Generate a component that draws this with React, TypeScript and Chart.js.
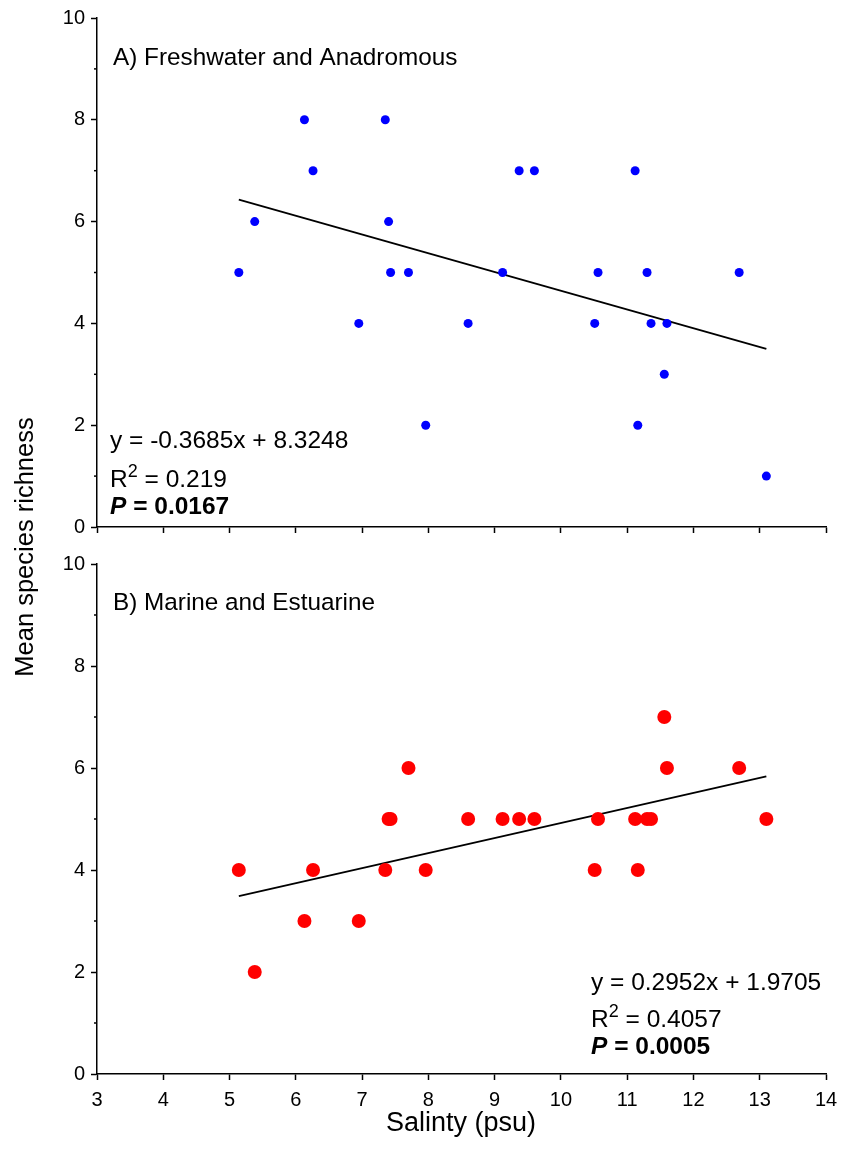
import React, { useEffect, useRef } from "react";
import { Chart, registerables } from "chart.js";

Chart.register(...registerables);

// ---- data ----
const salinity = [5.14, 5.38, 6.13, 6.26, 6.95, 7.35, 7.4, 7.43, 7.7, 7.96, 8.6, 9.12, 9.37, 9.6, 10.51, 10.56, 11.12, 11.16, 11.3, 11.36, 11.56, 11.6, 12.69, 13.1];
const freshwaterRichness = [5, 6, 8, 7, 4, 8, 6, 5, 5, 2, 4, 5, 7, 7, 4, 5, 7, 2, 5, 4, 3, 4, 5, 1];
const marineRichness = [4, 2, 3, 4, 3, 4, 5, 5, 6, 4, 5, 5, 5, 5, 4, 5, 5, 4, 5, 5, 7, 6, 6, 5];
const freshFit = { slope: -0.3685, intercept: 8.3248, r2: "0.219", p: "0.0167" };
const marineFit = { slope: 0.2952, intercept: 1.9705, r2: "0.4057", p: "0.0005" };
const xTickRange = { min: 3, max: 14, step: 1 };
const yTickRange = { min: 0, max: 10, step: 2 };
const yMinorTicks = [1, 3, 5, 7, 9];

const FONT = "'Liberation Sans', Arial, sans-serif";
const W = 841;
const H = 1166;

type Run = { text: string; font: string; dy?: number };
type TextItem = { x: number; y: number; runs: Run[]; rotate?: number; align?: "left" | "center" };

const overlayPlugin = {
  id: "overlay",
  afterDraw(chart: any, _args: any, opts: any) {
    const ctx = chart.ctx as CanvasRenderingContext2D;
    const ys = chart.scales.y;
    ctx.save();
    ctx.strokeStyle = "#000";
    ctx.lineWidth = 1.5;
    for (const v of opts.minorTicks || []) {
      const py = ys.getPixelForValue(v);
      ctx.beginPath();
      ctx.moveTo(ys.right - 3, py);
      ctx.lineTo(ys.right, py);
      ctx.stroke();
    }
    ctx.fillStyle = "#000";
    ctx.textBaseline = "alphabetic";
    ctx.textAlign = "left";
    for (const item of (opts.texts || []) as TextItem[]) {
      ctx.save();
      ctx.translate(item.x, item.y);
      if (item.rotate) ctx.rotate((item.rotate * Math.PI) / 180);
      let total = 0;
      for (const r of item.runs) {
        ctx.font = r.font;
        total += ctx.measureText(r.text).width;
      }
      let cx = item.align === "center" ? -total / 2 : 0;
      for (const r of item.runs) {
        ctx.font = r.font;
        ctx.fillText(r.text, cx, r.dy || 0);
        cx += ctx.measureText(r.text).width;
      }
      ctx.restore();
    }
    ctx.restore();
  },
};

const STAT = 24.5;

function statLines(fit: typeof freshFit, x: number, y0: number, y1: number, y2: number): TextItem[] {
  const sign = fit.intercept >= 0 ? "+" : "-";
  return [
    { x, y: y0, runs: [{ text: `y = ${fit.slope}x ${sign} ${Math.abs(fit.intercept)}`, font: `${STAT}px ${FONT}` }] },
    {
      x,
      y: y1,
      runs: [
        { text: "R", font: `${STAT}px ${FONT}` },
        { text: "2", font: `18px ${FONT}`, dy: -10 },
        { text: ` = ${fit.r2}`, font: `${STAT}px ${FONT}` },
      ],
    },
    {
      x,
      y: y2,
      runs: [
        { text: "P", font: `italic bold ${STAT}px ${FONT}` },
        { text: ` = ${fit.p}`, font: `bold ${STAT}px ${FONT}` },
      ],
    },
  ];
}

function makeConfig(opts: {
  values: number[];
  fit: typeof freshFit;
  color: string;
  radius: number;
  padTop: number;
  padBottom: number;
  xHeight: number;
  showXLabels: boolean;
  texts: TextItem[];
}) {
  const points = salinity.map((x, i) => ({ x, y: opts.values[i] }));
  const xMin = Math.min(...salinity);
  const xMax = Math.max(...salinity);
  const fitLine = [
    { x: xMin, y: opts.fit.slope * xMin + opts.fit.intercept },
    { x: xMax, y: opts.fit.slope * xMax + opts.fit.intercept },
  ];
  return {
    type: "scatter" as const,
    data: {
      datasets: [
        {
          data: fitLine,
          showLine: true,
          borderColor: "#000",
          borderWidth: 1.8,
          pointRadius: 0,
          fill: false,
          order: 2,
        },
        {
          data: points,
          backgroundColor: opts.color,
          borderWidth: 0,
          pointRadius: opts.radius,
          pointHoverRadius: opts.radius,
          order: 1,
        },
      ],
    },
    options: {
      animation: false as const,
      responsive: false,
      events: [],
      layout: { padding: { top: opts.padTop, bottom: opts.padBottom, left: 0, right: 15 } },
      plugins: {
        legend: { display: false },
        tooltip: { enabled: false },
        overlay: { minorTicks: yMinorTicks, texts: opts.texts },
      },
      scales: {
        x: {
          type: "linear" as const,
          min: xTickRange.min,
          max: xTickRange.max,
          afterFit: (s: any) => {
            s.height = opts.xHeight;
            s.paddingLeft = 0;
            s.paddingRight = 0;
          },
          ticks: {
            display: opts.showXLabels,
            stepSize: xTickRange.step,
            color: "#000",
            font: { family: FONT, size: 20 },
            padding: 8,
            maxRotation: 0,
          },
          grid: { drawOnChartArea: false, drawTicks: true, tickLength: 6, tickColor: "#000", tickWidth: 1.5 },
          border: { display: true, color: "#000", width: 1.5 },
        },
        y: {
          type: "linear" as const,
          min: yTickRange.min,
          max: yTickRange.max,
          afterFit: (s: any) => {
            s.width = 97;
          },
          ticks: {
            stepSize: yTickRange.step,
            color: "#000",
            font: { family: FONT, size: 20 },
            padding: 6,
          },
          grid: { drawOnChartArea: false, drawTicks: true, tickLength: 6, tickColor: "#000", tickWidth: 1.5 },
          border: { display: true, color: "#000", width: 1.5 },
        },
      },
    },
    plugins: [overlayPlugin],
  };
}

export default function App() {
  const refA = useRef<HTMLCanvasElement>(null);
  const refB = useRef<HTMLCanvasElement>(null);

  useEffect(() => {
    const textsA: TextItem[] = [
      { x: 113, y: 65, runs: [{ text: "A) Freshwater and Anadromous", font: `24.3px ${FONT}` }] },
      ...statLines(freshFit, 110, 448, 487, 514),
    ];
    const textsB: TextItem[] = [
      { x: 113, y: 610, runs: [{ text: "B) Marine and Estuarine", font: `24.3px ${FONT}` }] },
      ...statLines(marineFit, 591, 990, 1027, 1054),
      { x: 33, y: 547, rotate: -90, align: "center", runs: [{ text: "Mean species richness", font: `25.5px ${FONT}` }] },
      { x: 461, y: 1131, align: "center", runs: [{ text: "Salinty (psu)", font: `27px ${FONT}` }] },
    ];
    const chartA = new Chart(
      refA.current as HTMLCanvasElement,
      makeConfig({
        values: freshwaterRichness,
        fit: freshFit,
        color: "#0000FF",
        radius: 4.5,
        padTop: 17,
        padBottom: H - 527 - 10,
        xHeight: 10,
        showXLabels: false,
        texts: textsA,
      }) as any
    );
    const chartB = new Chart(
      refB.current as HTMLCanvasElement,
      makeConfig({
        values: marineRichness,
        fit: marineFit,
        color: "#FF0000",
        radius: 7,
        padTop: 564,
        padBottom: 0,
        xHeight: H - 1074,
        showXLabels: true,
        texts: textsB,
      }) as any
    );
    return () => {
      chartA.destroy();
      chartB.destroy();
    };
  }, []);

  const canvasStyle: React.CSSProperties = { position: "absolute", left: 0, top: 0, width: W, height: H };
  return (
    <div style={{ position: "absolute", left: 0, top: 0, width: W, height: H, background: "#fff" }}>
      <canvas ref={refA} width={W} height={H} style={canvasStyle} />
      <canvas ref={refB} width={W} height={H} style={canvasStyle} />
    </div>
  );
}
